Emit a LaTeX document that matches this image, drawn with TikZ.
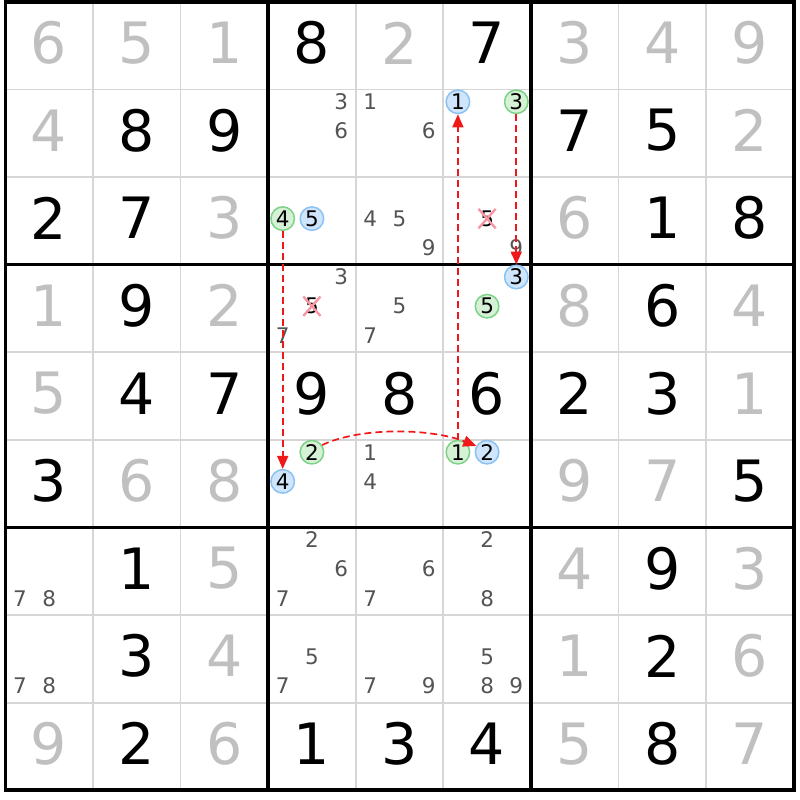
\documentclass[tikz,border=0pt]{standalone}
\usepackage{fontspec}
\setmainfont{DejaVu Sans}
\usetikzlibrary{arrows.meta,shapes.misc}
\definecolor{givgray}{RGB}{192,192,192}
\definecolor{candgray}{RGB}{84,84,84}
\definecolor{gridgray}{RGB}{214,214,214}
\definecolor{bfill}{RGB}{206,229,252}
\definecolor{bline}{RGB}{140,194,242}
\definecolor{gfill}{RGB}{214,242,214}
\definecolor{gline}{RGB}{124,210,134}
\definecolor{xpink}{RGB}{246,150,162}
\definecolor{arrred}{RGB}{240,24,24}
\tikzset{
  bigdig/.style={inner sep=0pt, font=\fontsize{57}{57}\selectfont},
  givdig/.style={bigdig, text=givgray},
  soldig/.style={bigdig, text=black},
  cand/.style={inner sep=0pt, font=\fontsize{21.5}{21.5}\selectfont, text=candgray},
  bcirc/.style={cand, text=black, circle, draw=bline, fill=bfill, line width=1.5pt, minimum size=23.5pt},
  gcirc/.style={cand, text=black, circle, draw=gline, fill=gfill, line width=1.5pt, minimum size=23.5pt},
  elim/.style={cand, text=black, cross out, draw=xpink, line width=2.4pt, inner sep=0.5pt},
  link/.style={draw=arrred, line width=1.7pt, dash pattern=on 7pt off 4pt, -{Triangle[length=13pt,width=11pt]}},
  thin grid/.style={draw=gridgray, line width=1.8pt},
  box grid/.style={draw=black, line width=3.6pt},
}
% given (gray) digit: row, col, digit
\newcommand\Gv[3]{\node[givdig] (g#1#2) at ({5.3+87.6*(#2-0.5)},{-0.8+87.6*(#1-0.5)}) {#3};}
% solved (black) digit
\newcommand\Sv[3]{\node[soldig] (g#1#2) at ({5.3+87.6*(#2-0.5)},{-0.8+87.6*(#1-0.5)}) {#3};}
% candidate: [style] row, col, digit
\newcommand\Cd[4][cand]{\node[#1] (k#2#3#4) at ({5.3+87.6*(#3-0.5)+(mod(#4-1,3)-1)*29.2},{-0.4+87.6*(#2-0.5)+(floor((#4-1)/3)-1)*29.2}) {#4};}
\begin{document}
\begin{tikzpicture}[x=1pt,y=-1pt]
\useasboundingbox (0,0) rectangle (800,800);
\fill[white] (0,0) rectangle (800,800);
% grid
\foreach \i in {1,2,4,5,7,8} {
  \draw[thin grid] ({5.3+87.6*\i},1.8) -- ({5.3+87.6*\i},790.2);
  \draw[thin grid] (5.3,{1.8+87.6*\i}) -- (793.7,{1.8+87.6*\i});
}
\foreach \i in {3,6} {
  \draw[box grid] ({5.3+87.6*\i},1.8) -- ({5.3+87.6*\i},790.2);
  \draw[box grid] (5.3,{1.8+87.6*\i}) -- (793.7,{1.8+87.6*\i});
}
\draw[box grid] (5.3,1.8) rectangle (793.7,790.2);
% givens
\Gv{1}{1}{6}\Gv{1}{2}{5}\Gv{1}{3}{1}\Gv{1}{5}{2}\Gv{1}{7}{3}\Gv{1}{8}{4}\Gv{1}{9}{9}
\Gv{2}{1}{4}\Gv{2}{9}{2}
\Gv{3}{3}{3}\Gv{3}{7}{6}
\Gv{4}{1}{1}\Gv{4}{3}{2}\Gv{4}{7}{8}\Gv{4}{9}{4}
\Gv{5}{1}{5}\Gv{5}{9}{1}
\Gv{6}{2}{6}\Gv{6}{3}{8}\Gv{6}{7}{9}\Gv{6}{8}{7}
\Gv{7}{3}{5}\Gv{7}{7}{4}\Gv{7}{9}{3}
\Gv{8}{3}{4}\Gv{8}{7}{1}\Gv{8}{9}{6}
\Gv{9}{1}{9}\Gv{9}{3}{6}\Gv{9}{7}{5}\Gv{9}{9}{7}
% solved
\Sv{1}{4}{8}\Sv{1}{6}{7}
\Sv{2}{2}{8}\Sv{2}{3}{9}\Sv{2}{7}{7}\Sv{2}{8}{5}
\Sv{3}{1}{2}\Sv{3}{2}{7}\Sv{3}{8}{1}\Sv{3}{9}{8}
\Sv{4}{2}{9}\Sv{4}{8}{6}
\Sv{5}{2}{4}\Sv{5}{3}{7}\Sv{5}{4}{9}\Sv{5}{5}{8}\Sv{5}{6}{6}\Sv{5}{7}{2}\Sv{5}{8}{3}
\Sv{6}{1}{3}\Sv{6}{9}{5}
\Sv{7}{2}{1}\Sv{7}{8}{9}
\Sv{8}{2}{3}\Sv{8}{8}{2}
\Sv{9}{2}{2}\Sv{9}{4}{1}\Sv{9}{5}{3}\Sv{9}{6}{4}\Sv{9}{8}{8}
% candidates
\Cd{2}{4}{3}\Cd{2}{4}{6}
\Cd{2}{5}{1}\Cd{2}{5}{6}
\Cd[bcirc]{2}{6}{1}\Cd[gcirc]{2}{6}{3}
\Cd[gcirc]{3}{4}{4}\Cd[bcirc]{3}{4}{5}
\Cd{3}{5}{4}\Cd{3}{5}{5}\Cd{3}{5}{9}
\Cd[elim]{3}{6}{5}\Cd{3}{6}{9}
\Cd{4}{4}{3}\Cd[elim]{4}{4}{5}\Cd{4}{4}{7}
\Cd{4}{5}{5}\Cd{4}{5}{7}
\Cd[bcirc]{4}{6}{3}\Cd[gcirc]{4}{6}{5}
\Cd[gcirc]{6}{4}{2}\Cd[bcirc]{6}{4}{4}
\Cd{6}{5}{1}\Cd{6}{5}{4}
\Cd[gcirc]{6}{6}{1}\Cd[bcirc]{6}{6}{2}
\Cd{7}{1}{7}\Cd{7}{1}{8}
\Cd{7}{4}{2}\Cd{7}{4}{6}\Cd{7}{4}{7}
\Cd{7}{5}{6}\Cd{7}{5}{7}
\Cd{7}{6}{2}\Cd{7}{6}{8}
\Cd{8}{1}{7}\Cd{8}{1}{8}
\Cd{8}{4}{5}\Cd{8}{4}{7}
\Cd{8}{5}{7}\Cd{8}{5}{9}
\Cd{8}{6}{5}\Cd{8}{6}{8}\Cd{8}{6}{9}
% links
\draw[link] (k661) -- (k261);
\draw[link] (k263) -- (k463);
\draw[link] (k344) -- (k644);
\draw[link] (k642.35) .. controls (360,427) and (430,428) .. (k662.150);
\end{tikzpicture}
\end{document}
